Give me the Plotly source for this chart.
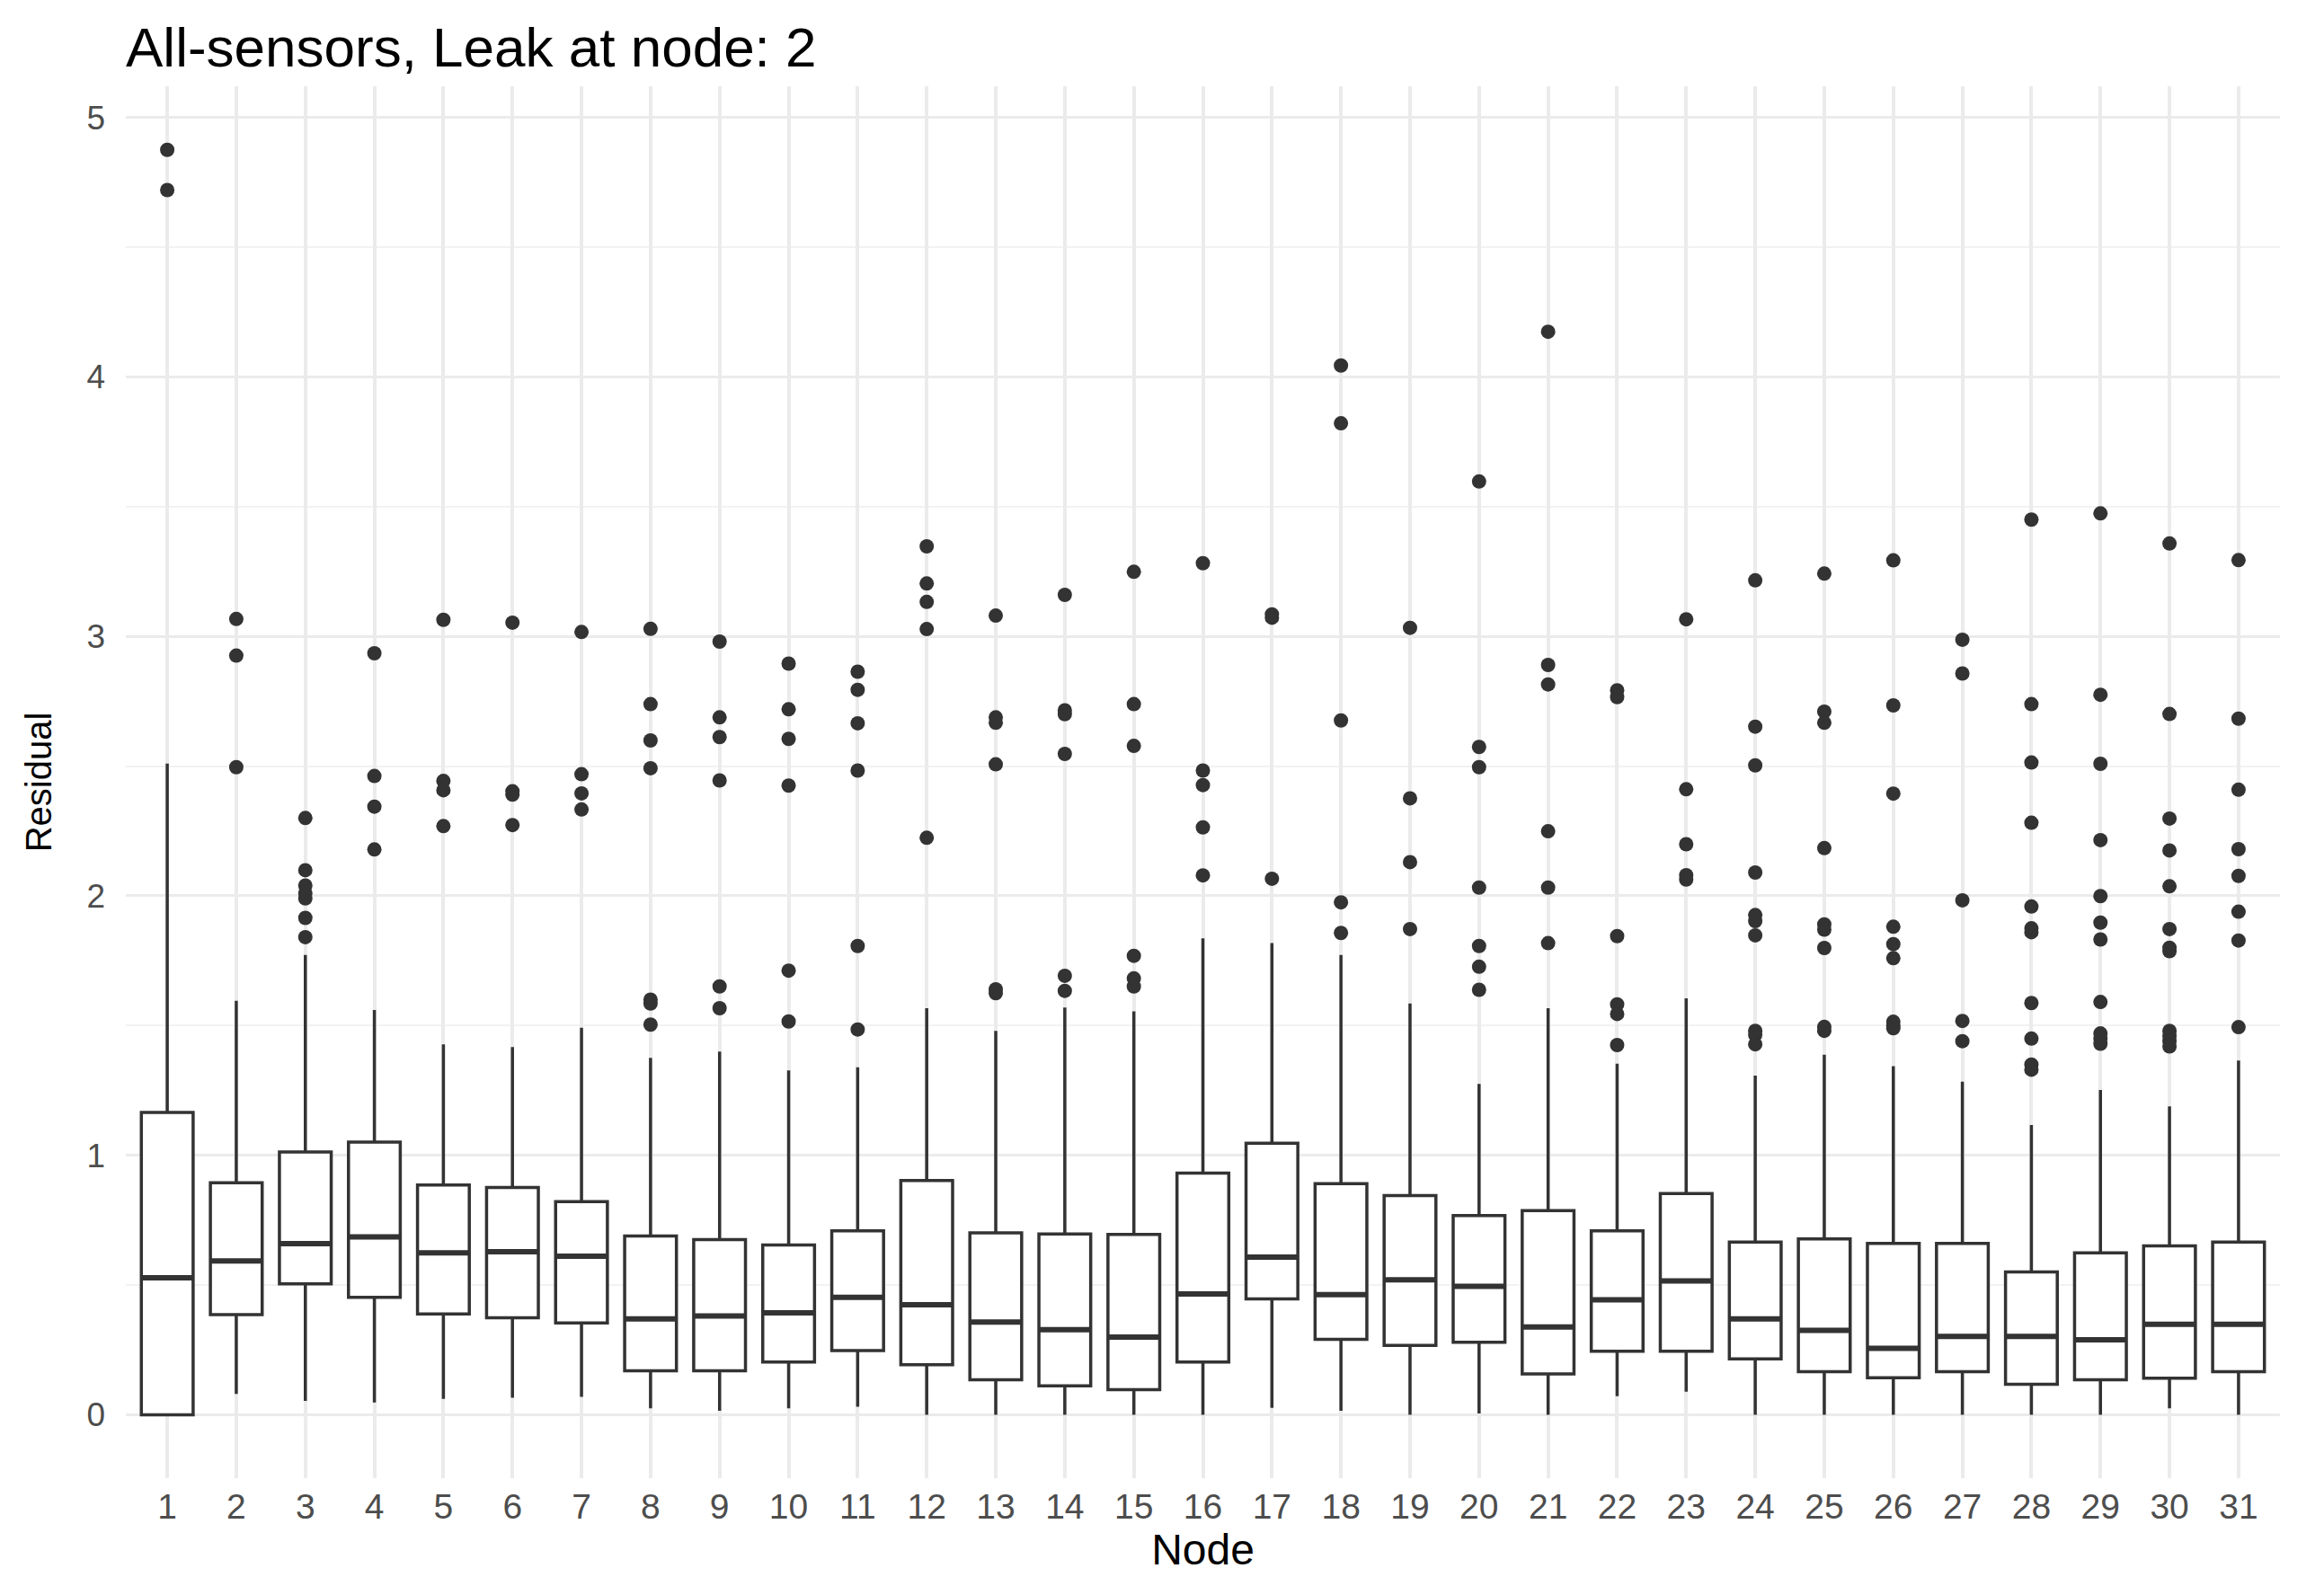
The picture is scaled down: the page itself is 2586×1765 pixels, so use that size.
import plotly.graph_objects as go

nodes = list(range(1, 32))
q1 = [0.000, 0.386, 0.505, 0.453, 0.389, 0.374, 0.354, 0.170, 0.170, 0.204, 0.248,
      0.193, 0.135, 0.112, 0.097, 0.204, 0.447, 0.291, 0.268, 0.280, 0.158, 0.245,
      0.245, 0.216, 0.166, 0.143, 0.166, 0.118, 0.135, 0.141, 0.166]
median = [0.528, 0.593, 0.660, 0.686, 0.624, 0.629, 0.611, 0.370, 0.381, 0.393, 0.453,
          0.424, 0.358, 0.328, 0.300, 0.466, 0.608, 0.463, 0.520, 0.495, 0.339, 0.443,
          0.516, 0.370, 0.326, 0.256, 0.302, 0.302, 0.289, 0.349, 0.349]
q3 = [1.165, 0.894, 1.013, 1.051, 0.886, 0.876, 0.822, 0.689, 0.675, 0.655, 0.709,
      0.903, 0.701, 0.697, 0.695, 0.932, 1.047, 0.891, 0.845, 0.768, 0.787, 0.709,
      0.853, 0.666, 0.678, 0.661, 0.661, 0.551, 0.624, 0.651, 0.666]
lower_whisker = [0.000, 0.081, 0.054, 0.048, 0.062, 0.066, 0.069, 0.025, 0.016, 0.025, 0.031,
                 0.000, 0.000, 0.000, 0.000, 0.000, 0.027, 0.016, 0.000, 0.005, 0.000, 0.072,
                 0.089, 0.000, 0.000, 0.000, 0.000, 0.000, 0.000, 0.025, 0.000]
upper_whisker = [2.510, 1.596, 1.772, 1.560, 1.428, 1.417, 1.492, 1.376, 1.400, 1.327, 1.339,
                 1.567, 1.480, 1.570, 1.555, 1.836, 1.818, 1.772, 1.585, 1.275, 1.567, 1.353,
                 1.605, 1.307, 1.388, 1.344, 1.284, 1.117, 1.252, 1.189, 1.365]
outliers = [
    [4.875, 4.72],
    [3.067, 2.926, 2.496],
    [2.300, 2.099, 2.04, 2.01, 1.99, 1.915, 1.841],
    [2.935, 2.462, 2.344, 2.179],
    [3.064, 2.443, 2.407, 2.269],
    [3.053, 2.403, 2.390, 2.273],
    [3.017, 2.469, 2.395, 2.333],
    [3.029, 2.739, 2.599, 2.492, 1.600, 1.585, 1.504],
    [2.980, 2.688, 2.612, 2.445, 1.651, 1.567],
    [2.895, 2.719, 2.605, 2.425, 1.712, 1.516],
    [2.864, 2.794, 2.665, 2.483, 1.807, 1.485],
    [3.347, 3.204, 3.133, 3.028, 2.224],
    [3.080, 2.688, 2.667, 2.507, 1.640, 1.625],
    [3.160, 2.715, 2.700, 2.547, 1.692, 1.634],
    [3.249, 2.739, 2.578, 1.769, 1.682, 1.651],
    [3.282, 2.483, 2.427, 2.264, 2.079],
    [3.085, 3.072, 2.066],
    [4.044, 3.821, 2.676, 1.975, 1.857],
    [3.033, 2.376, 2.130, 1.872],
    [3.597, 2.574, 2.496, 2.032, 1.807, 1.727, 1.638],
    [4.174, 2.890, 2.815, 2.249, 2.032, 1.818],
    [2.792, 2.766, 1.845, 1.582, 1.545, 1.425],
    [3.066, 2.411, 2.199, 2.080, 2.063],
    [3.216, 2.652, 2.503, 2.090, 1.926, 1.903, 1.848, 1.480, 1.465, 1.428],
    [3.242, 2.710, 2.667, 2.184, 1.890, 1.870, 1.799, 1.495, 1.480],
    [3.293, 2.734, 2.394, 1.881, 1.814, 1.760, 1.515, 1.500, 1.490],
    [2.987, 2.857, 1.983, 1.518, 1.440],
    [3.450, 2.739, 2.514, 2.282, 1.959, 1.875, 1.860, 1.587, 1.450, 1.350, 1.330],
    [3.474, 2.775, 2.509, 2.215, 1.999, 1.897, 1.832, 1.591, 1.470, 1.450, 1.430],
    [3.358, 2.701, 2.298, 2.175, 2.037, 1.872, 1.800, 1.787, 1.480, 1.460, 1.440, 1.420],
    [3.294, 2.683, 2.409, 2.180, 2.077, 1.939, 1.828, 1.494],
]
tick_labels = [str(n) for n in nodes]

LINE = "#333333"
BOX_W = 0.75
FONT = "Liberation Sans, Arial, sans-serif"

fig = go.Figure()
fig.add_trace(go.Box(
    x=nodes, q1=q1, median=median, q3=q3,
    lowerfence=lower_whisker, upperfence=upper_whisker,
    width=BOX_W, whiskerwidth=0, boxpoints=False,
    line=dict(color=LINE, width=3.5), fillcolor="white",
    showlegend=False, hoverinfo="skip",
))

# thicker median bars (ggplot fatten)
mx, my = [], []
for n, m in zip(nodes, median):
    mx += [n - BOX_W / 2, n + BOX_W / 2, None]
    my += [m, m, None]
fig.add_trace(go.Scatter(x=mx, y=my, mode="lines",
                         line=dict(color=LINE, width=6),
                         showlegend=False, hoverinfo="skip"))

ox, oy = [], []
for n, vals in zip(nodes, outliers):
    for v in vals:
        ox.append(n)
        oy.append(v)
fig.add_trace(go.Scatter(x=ox, y=oy, mode="markers",
                         marker=dict(color=LINE, size=16, line=dict(width=0)),
                         showlegend=False, hoverinfo="skip"))

# page body has an 8px margin, so the figure is sized/shifted to compensate
fig.update_layout(
    width=2570, height=1749,
    paper_bgcolor="white", plot_bgcolor="white",
    margin=dict(l=132, r=41, t=88, b=112, autoexpand=False),
    font=dict(family=FONT, color="#4D4D4D"),
    title=dict(text="All-sensors, Leak at node: 2",
               font=dict(size=62, color="black", family=FONT),
               x=0, xref="paper", xanchor="left",
               y=1 - 44 / 1749, yref="container", yanchor="middle"),
    xaxis=dict(
        range=[0.4, 31.6], tickmode="array", tickvals=nodes, ticktext=tick_labels,
        showgrid=True, gridcolor="#EBEBEB", gridwidth=4, zeroline=False,
        showline=False, ticks="", ticklabelstandoff=5, automargin=False,
        tickfont=dict(size=39, color="#4D4D4D"),
        title=dict(text="Node", font=dict(size=48, color="black"), standoff=2),
    ),
    yaxis=dict(
        range=[-0.244, 5.12], tickmode="array", tickvals=[0, 1, 2, 3, 4, 5],
        ticktext=["0", "1", "2", "3", "4", "5"],
        showgrid=True, gridcolor="#EBEBEB", gridwidth=3, zeroline=False,
        showline=False, ticks="", ticklabelstandoff=22, automargin=False,
        minor=dict(tickvals=[0.5, 1.5, 2.5, 3.5, 4.5], showgrid=True,
                   gridcolor="#F2F2F2", gridwidth=2),
        tickfont=dict(size=37, color="#4D4D4D"),
        title=dict(text="Residual", font=dict(size=40, color="black"), standoff=26),
    ),
)

fig.write_html("out.html")
